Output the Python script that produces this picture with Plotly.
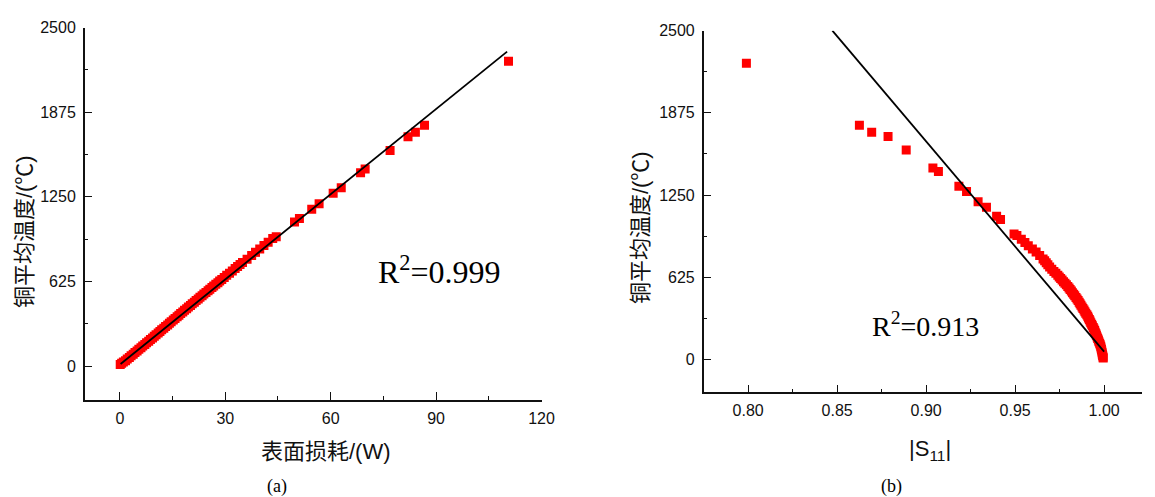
import plotly.graph_objects as go

# ---- data ----
temp = [2252, 1780, 1727, 1695, 1592, 1455, 1429, 1317, 1277, 1200, 1158, 1090, 1065,
        955, 943, 915, 890, 865, 840, 817, 790, 765, 750, 735, 720, 703, 686, 670, 655,
        640, 628, 616, 604, 592, 580, 568, 556, 544, 532, 520, 508, 496, 484, 472, 460,
        448, 436, 424, 412, 400, 388, 376, 364, 352, 340, 328, 316, 304, 292, 280, 268,
        256, 244, 232, 220, 208, 196, 184, 172, 160, 148, 136, 124, 112, 100, 88, 76,
        64, 52, 40, 30, 20, 12]
loss = [110.6, 86.7, 84.1, 82.0, 76.9, 69.8, 68.5, 63.0, 60.7, 56.7, 54.6, 51.1, 49.7,
        44.5, 43.5, 42.2, 41.0, 39.8, 38.6, 37.5, 36.2, 34.9, 34.2, 33.5, 32.8, 32.0, 31.2,
        30.4, 29.7, 29.0, 28.4, 27.9, 27.3, 26.7, 26.2, 25.6, 25.1, 24.5, 23.9, 23.4, 22.8,
        22.3, 21.7, 21.2, 20.6, 20.1, 19.5, 19.0, 18.4, 17.9, 17.3, 16.8, 16.3, 15.7, 15.2,
        14.6, 14.1, 13.6, 13.0, 12.5, 11.9, 11.4, 10.9, 10.3, 9.8, 9.3, 8.7, 8.2, 7.6, 7.1,
        6.5, 6.0, 5.4, 4.9, 4.3, 3.8, 3.2, 2.7, 2.1, 1.6, 1.0, 0.5, 0.1]
s11 = [0.7990, 0.8625, 0.8694, 0.8786, 0.8888, 0.9038, 0.9069, 0.9184, 0.9227, 0.9292,
       0.9339, 0.9396, 0.9418, 0.9494, 0.9510, 0.9535, 0.9555, 0.9574, 0.9597, 0.9618,
       0.9638, 0.9657, 0.9666, 0.9675, 0.9684, 0.9694, 0.9706, 0.9718, 0.9729, 0.9740,
       0.9748, 0.9756, 0.9764, 0.9772, 0.9780, 0.9788, 0.9796, 0.9803, 0.9809, 0.9816,
       0.9822, 0.9829, 0.9835, 0.9842, 0.9848, 0.9854, 0.9860, 0.9865, 0.9870, 0.9876,
       0.9881, 0.9887, 0.9892, 0.9897, 0.9903, 0.9908, 0.9912, 0.9917, 0.9921, 0.9925,
       0.9930, 0.9934, 0.9939, 0.9943, 0.9947, 0.9950, 0.9954, 0.9957, 0.9961, 0.9964,
       0.9968, 0.9971, 0.9975, 0.9978, 0.9981, 0.9983, 0.9985, 0.9987, 0.9989, 0.9990,
       0.9992, 0.9994, 0.9995]

fit_a_x = [0.2, 110.2]
fit_a_y = [15, 2323]
fit_b_x = [0.8473, 1.0]
fit_b_y = [2500, 60]

xticks_a = [0, 30, 60, 90, 120]
yticks = [0, 625, 1250, 1875, 2500]
xticks_b = [0.80, 0.85, 0.90, 0.95, 1.00]
xticklabels_b = ["0.80", "0.85", "0.90", "0.95", "1.00"]

W, H = 1155, 497
RED = "#ff0000"
INK = "#111111"
SANS = "Liberation Sans, Arial, Noto Sans CJK SC, sans-serif"
SERIF = "Liberation Serif, Times New Roman, serif"
TITLE_FONT = "Liberation Sans, Arial, Noto Sans CJK SC, sans-serif"

fig = go.Figure()

fig.add_trace(go.Scatter(x=loss, y=temp, mode="markers", xaxis="x", yaxis="y",
                         marker=dict(symbol="square", size=9, color=RED, line=dict(width=0)),
                         showlegend=False))
fig.add_trace(go.Scatter(x=fit_a_x, y=fit_a_y, mode="lines", xaxis="x", yaxis="y",
                         line=dict(color="black", width=1.8), showlegend=False))
fig.add_trace(go.Scatter(x=s11, y=temp, mode="markers", xaxis="x2", yaxis="y2",
                         marker=dict(symbol="square", size=9, color=RED, line=dict(width=0)),
                         showlegend=False))
fig.add_trace(go.Scatter(x=fit_b_x, y=fit_b_y, mode="lines", xaxis="x2", yaxis="y2",
                         line=dict(color="black", width=1.8), showlegend=False))

axis_common = dict(showline=True, linecolor=INK, linewidth=1.5, showgrid=False,
                   zeroline=False, ticks="inside", ticklen=8, tickwidth=1.3,
                   tickcolor=INK, tickfont=dict(family=SANS, size=16, color=INK),
                   fixedrange=True)

def px_x(p):
    return p / W

def px_y(p):
    return 1 - p / H

fig.update_layout(
    width=W, height=H,
    margin=dict(l=0, r=0, t=0, b=0),
    paper_bgcolor="white", plot_bgcolor="white",
    xaxis=dict(domain=[px_x(85.7), px_x(547.7)], range=[-10, 120],
               tickmode="array", tickvals=xticks_a, anchor="y",
               minor=dict(ticks="inside", ticklen=4, tickwidth=1.2, tickcolor=INK, dtick=15, tick0=0),
               ticklabelstandoff=3, **axis_common),
    yaxis=dict(domain=[px_y(398.3), px_y(20)], range=[-250, 2500],
               tickmode="array", tickvals=yticks, anchor="x",
               minor=dict(ticks="inside", ticklen=4, tickwidth=1.2, tickcolor=INK, dtick=312.5, tick0=0),
               ticklabelstandoff=4, **axis_common),
    xaxis2=dict(domain=[px_x(711.7), 1.0], range=[0.775, 1.0213],
                tickmode="array", tickvals=xticks_b, ticktext=xticklabels_b, anchor="y2",
                minor=dict(ticks="inside", ticklen=4, tickwidth=1.2, tickcolor=INK, dtick=0.025, tick0=0.8),
                ticklabelstandoff=3, **axis_common),
    yaxis2=dict(domain=[px_y(390.7), px_y(23)], range=[-250, 2500],
                tickmode="array", tickvals=yticks, anchor="x2",
                minor=dict(ticks="inside", ticklen=4, tickwidth=1.2, tickcolor=INK, dtick=312.5, tick0=0),
                ticklabelstandoff=4, **axis_common),
)

def ann(text, x, y, size, family, angle=0, color=INK):
    fig.add_annotation(text=text, x=px_x(x), y=px_y(y), xref="paper", yref="paper",
                       xanchor="center", yanchor="middle", showarrow=False,
                       textangle=angle, font=dict(family=family, size=size, color=color))

ann("表面损耗/(W)", 330, 451, 22, TITLE_FONT)
ann("铜平均温度/(℃)", 25, 227, 22, TITLE_FONT, angle=-90)
ann("|S<sub>11</sub>|", 941, 449, 22, TITLE_FONT)
ann("铜平均温度/(℃)", 648, 223, 22, TITLE_FONT, angle=-90)
ann("R<sup>2</sup>=0.999", 445, 266, 32, SERIF, color="black")
ann("R<sup>2</sup>=0.913", 936, 322, 28, SERIF, color="black")
ann("(a)", 280, 486, 18, SERIF, color="black")
ann("(b)", 902, 486, 18, SERIF, color="black")

fig.write_html("out.html", config={"displayModeBar": False},
               post_script="document.body.style.margin='0';document.body.style.overflow='hidden';")
